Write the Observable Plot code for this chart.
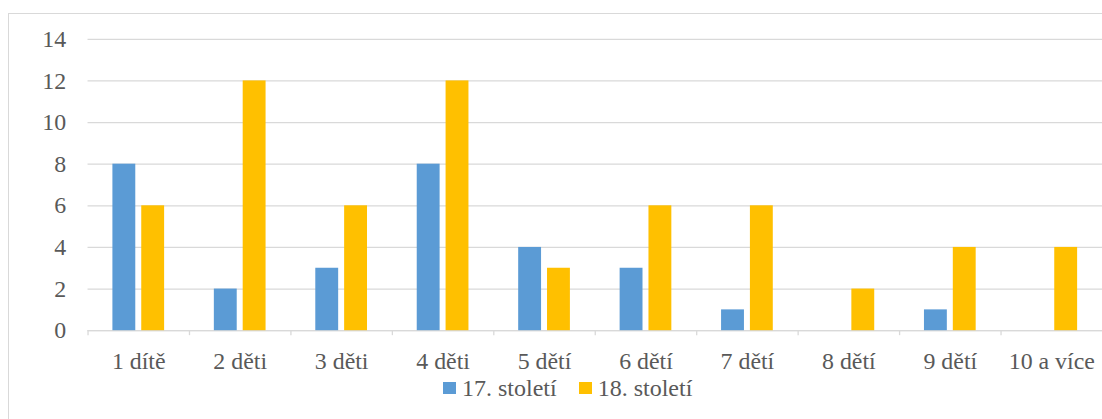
<!DOCTYPE html>
<html><head><meta charset="utf-8">
<script src="https://cdn.jsdelivr.net/npm/d3@7"></script>
<script src="https://cdn.jsdelivr.net/npm/@observablehq/plot@0.6"></script>
<style>
body{margin:0;overflow:hidden;background:#fff;width:1102px;height:419px;position:relative;font-family:"Liberation Serif",serif;}
#frame{position:absolute;left:8px;top:13px;width:1200px;height:500px;border-left:1px solid #d9d9d9;border-top:1px solid #d9d9d9;}
#chart{position:absolute;left:0;top:0;}
#legend{position:absolute;left:443px;top:374px;font-size:24px;line-height:28px;color:#595959;display:flex;align-items:center;white-space:nowrap;}
.sw{display:inline-block;width:13px;height:12px;margin-right:6px;}
</style></head><body>
<div id="frame"></div>
<div id="chart"></div>
<div id="legend"></div>
<script>
const categories = ["1 dítě","2 děti","3 děti","4 děti","5 dětí","6 dětí","7 dětí","8 dětí","9 dětí","10 a více"];
const series = ["17. století","18. století"];
const values17 = [8,2,3,8,4,3,1,0,1,0];
const values18 = [6,12,6,12,3,6,6,2,4,4];
const yTicks = [0,2,4,6,8,10,12,14];
const colors = ["#5B9BD5","#FFC000"];

const rows17 = categories.map((c,i)=>({cat:c, v:values17[i]}));
const rows18 = categories.map((c,i)=>({cat:c, v:values18[i]}));

const plot = Plot.plot({
  width: 1108,
  height: 419,
  marginLeft: 88,
  marginRight: 0,
  marginTop: 39,
  marginBottom: 87,
  style: {fontFamily: '"Liberation Serif", serif', fontSize: "24px", color: "#595959", background: "transparent"},
  x: {domain: categories, padding: 0, label: null},
  y: {domain: [0,14], label: null},
  marks: [
    Plot.gridY(yTicks, {stroke: "#d9d9d9", strokeOpacity: 1, strokeWidth: 1.3}),
    Plot.ruleY([0], {stroke: "#d9d9d9", strokeWidth: 1.3}),
    Plot.axisY(yTicks, {tickSize: 0, tickPadding: 22, fill: "#595959", fontSize: 24, label: null}),
    Plot.axisX({tickSize: 5, tickFormat: null, text: null, dx: -51, stroke: "#d9d9d9", strokeWidth: 1.3, label: null}),
    Plot.axisX({tickSize: 0, tickPadding: 21, fill: "#595959", fontSize: 24, label: null}),
    Plot.barY(rows17, {x: "cat", y: "v", fill: colors[0], insetLeft: 25, insetRight: 54}),
    Plot.barY(rows18, {x: "cat", y: "v", fill: colors[1], insetLeft: 54, insetRight: 25})
  ]
});
document.getElementById("chart").appendChild(plot);

const legend = document.getElementById("legend");
series.forEach((s,i)=>{
  const sw = document.createElement("span");
  sw.className = "sw"; sw.style.background = colors[i];
  const t = document.createElement("span");
  t.textContent = s;
  if (i>0) sw.style.marginLeft = "22px";
  legend.appendChild(sw); legend.appendChild(t);
});
</script>
</body></html>
